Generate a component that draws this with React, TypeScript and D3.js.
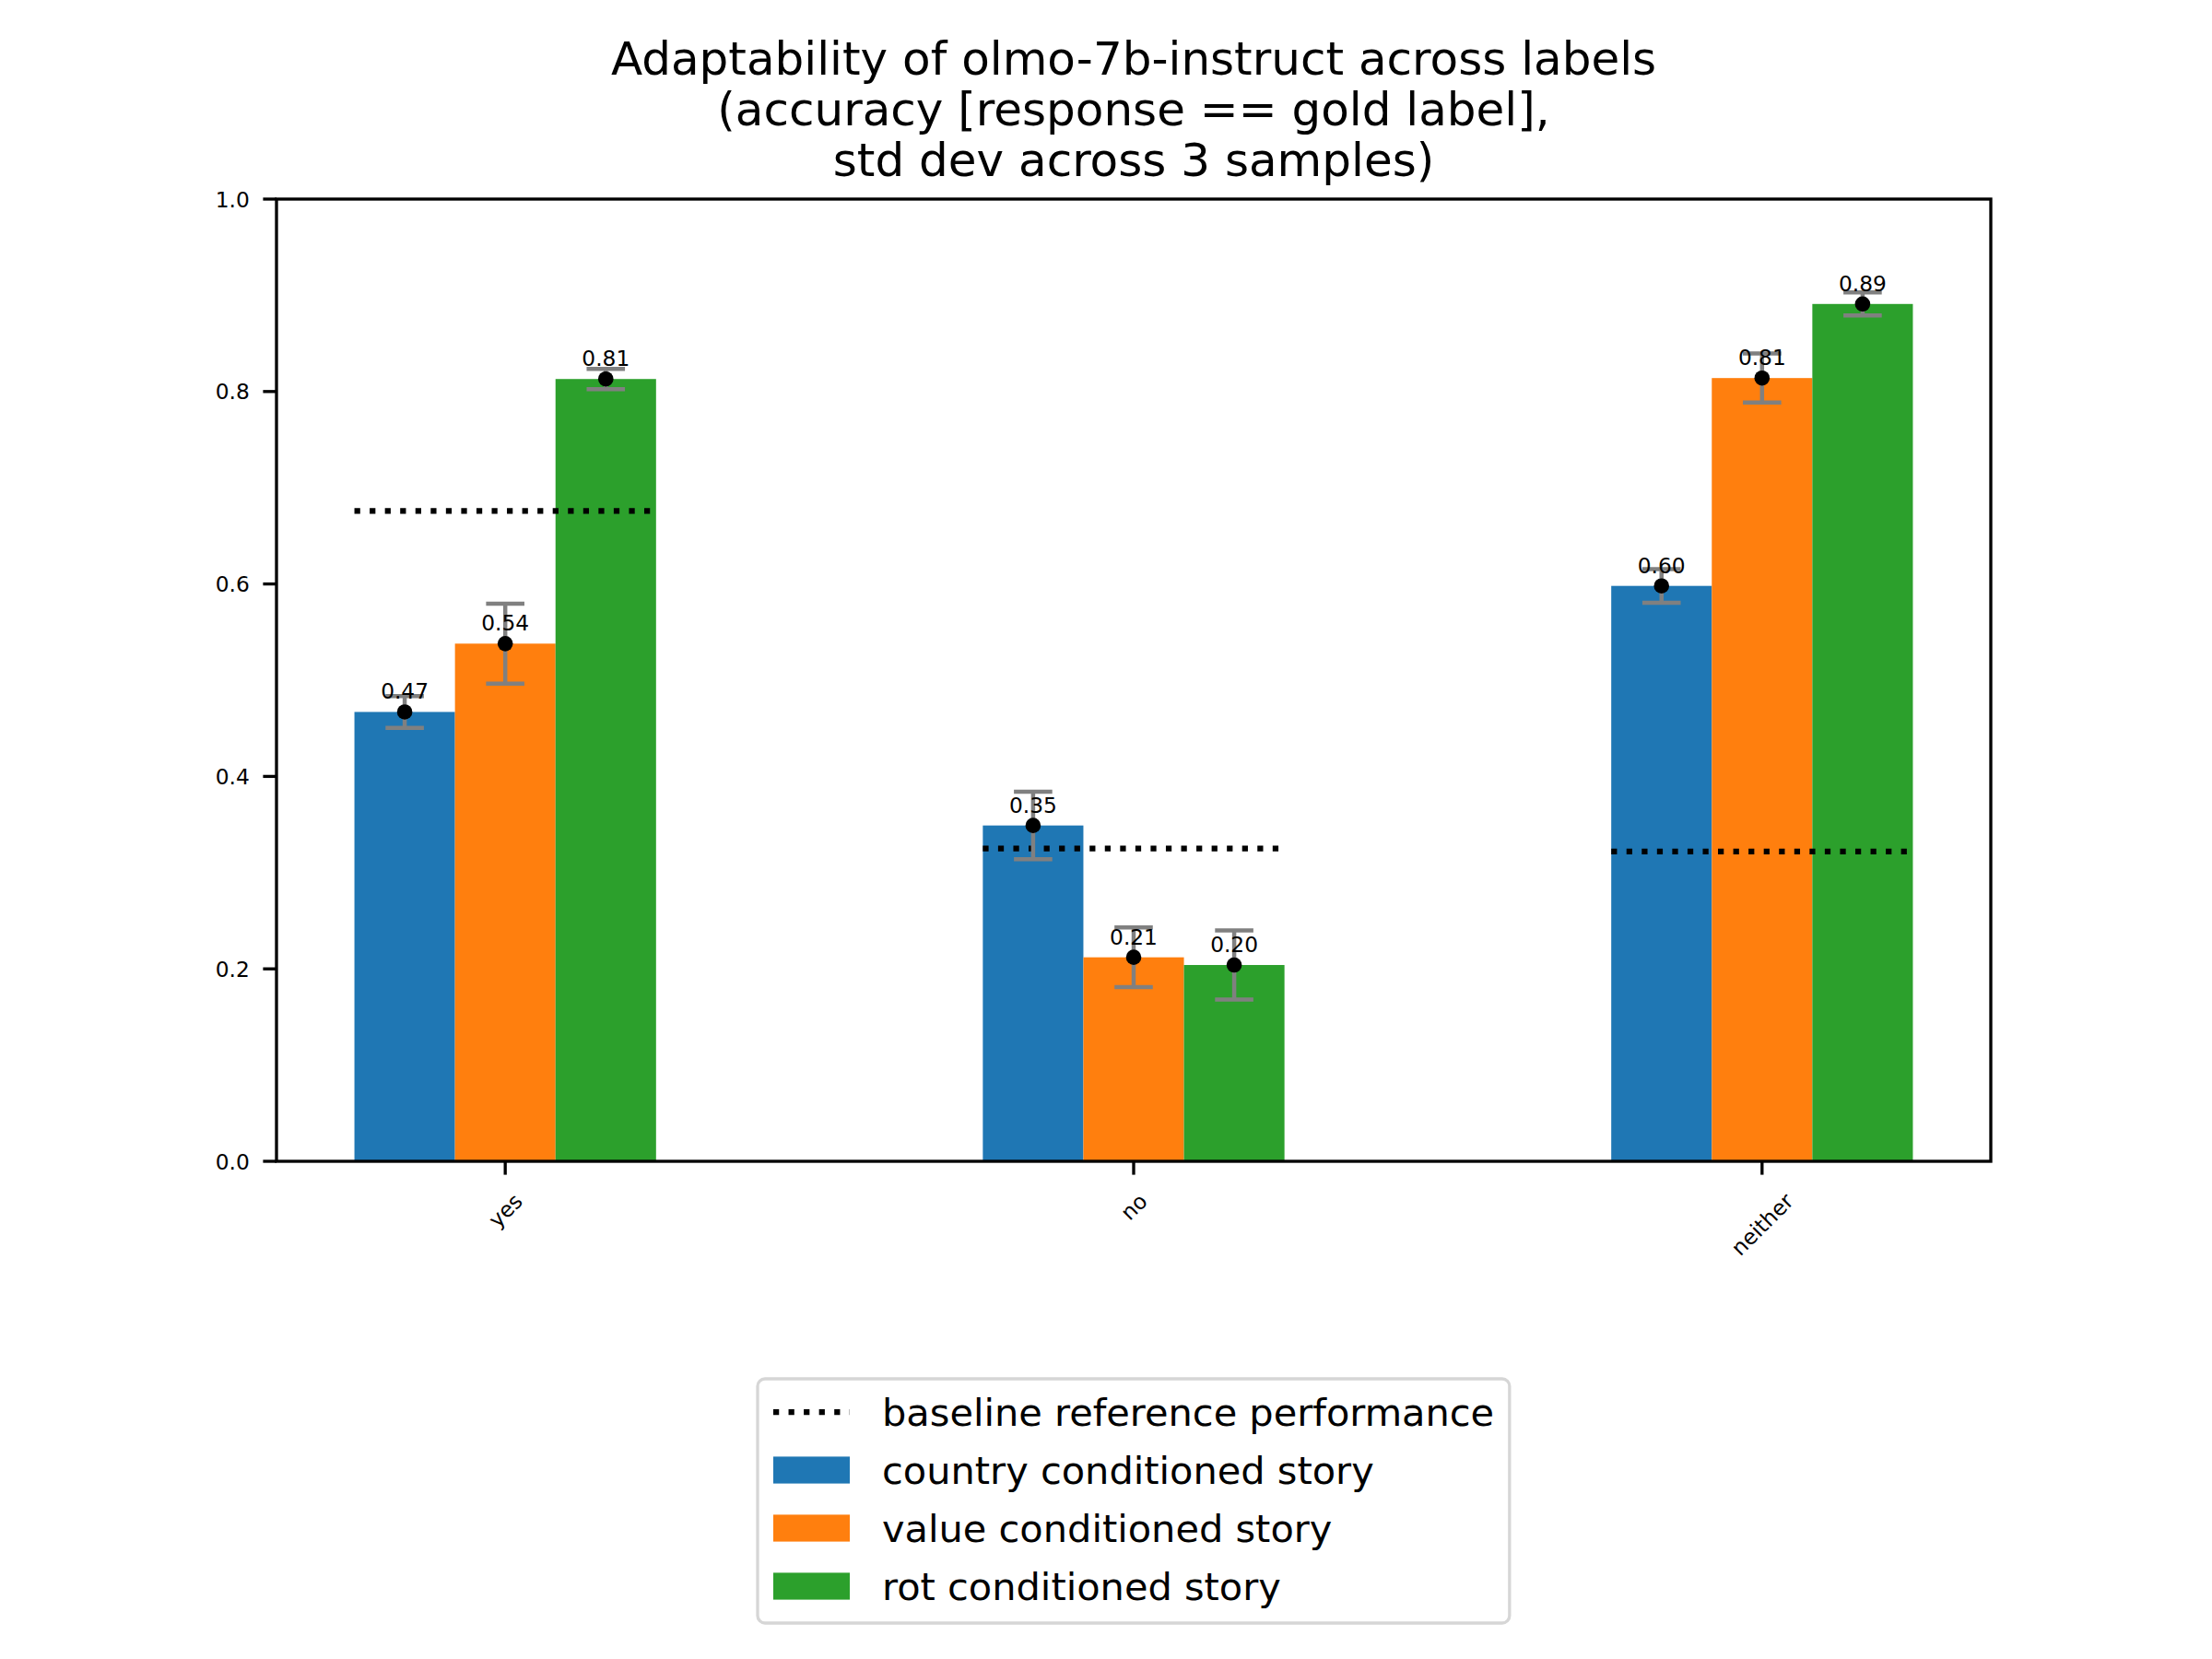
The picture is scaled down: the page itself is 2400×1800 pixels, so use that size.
import { useMemo } from 'react'
import * as d3 from 'd3'

// chart data
const categories = ['yes', 'no', 'neither']
const seriesNames = ['country conditioned story', 'value conditioned story', 'rot conditioned story']
const seriesColors = ['#1f77b4', '#ff7f0e', '#2ca02c']
const countryMeans = [0.467, 0.349, 0.598]
const countryStd = [0.0165, 0.035, 0.0175]
const valueMeans = [0.538, 0.212, 0.814]
const valueStd = [0.0415, 0.031, 0.0255]
const rotMeans = [0.813, 0.204, 0.891]
const rotStd = [0.0105, 0.036, 0.012]
const baselineValues = [0.676, 0.325, 0.322]
const baselineLabel = 'baseline reference performance'
const yTicks = [0, 0.2, 0.4, 0.6, 0.8, 1.0]
const titleLines = [
  'Adaptability of olmo-7b-instruct across labels',
  '(accuracy [response == gold label],',
  'std dev across 3 samples)',
]

const FONT = 'DejaVu Sans, Liberation Sans, sans-serif'

// rough text width measure so rotated tick labels sit like matplotlib's
function measure(text: string, size: number) {
  const ctx = document.createElement('canvas').getContext('2d')
  if (!ctx) return text.length * size * 0.6
  ctx.font = `${size}px "DejaVu Sans"`
  return ctx.measureText(text).width
}

export default function App() {
  const W = 2400
  const H = 1800
  const m = { left: 300, right: 2160, top: 216, bottom: 1260 }
  const barW = 0.16
  const tickLen = 14.6
  const tickFont = 23.3
  const legendFont = 41.5

  const series = [
    { name: seriesNames[0], color: seriesColors[0], means: countryMeans, std: countryStd },
    { name: seriesNames[1], color: seriesColors[1], means: valueMeans, std: valueStd },
    { name: seriesNames[2], color: seriesColors[2], means: rotMeans, std: rotStd },
  ]

  // bars span [-1.5w, n-1+1.5w], matplotlib adds a 5% margin
  const lo = -1.5 * barW
  const hi = categories.length - 1 + 1.5 * barW
  const pad = (hi - lo) * 0.05
  const x = d3.scaleLinear().domain([lo - pad, hi + pad]).range([m.left, m.right])
  const y = d3.scaleLinear().domain([0, 1]).range([m.bottom, m.top])
  const bw = x(barW) - x(0)

  const xLabels = useMemo(() => categories.map(c => {
    const w = measure(c, tickFont)
    const h = tickFont * 1.17
    const bboxH = (w + h) * Math.SQRT1_2
    return { c, cy: m.bottom + tickLen + 14.6 + bboxH / 2 }
  }), [])

  const legendTextW = useMemo(() => measure(baselineLabel, legendFont), [])
  const legLeft = 822
  const legTop = 1496
  const legRowY = (i: number) => 1532 + i * 63
  const legRight = 957 + legendTextW + 16.7

  return (
    <svg width={W} height={H} viewBox={`0 0 ${W} ${H}`}
      style={{ position: 'absolute', left: 0, top: 0, display: 'block', background: '#fff' }}
      fontFamily={FONT}>
      <rect x={0} y={0} width={W} height={H} fill="#fff" />

      {/* title */}
      {titleLines.map((t, i) => (
        <text key={t} x={(m.left + m.right) / 2} y={80.7 + i * 55} fontSize={50}
          textAnchor="middle" fill="#000">{t}</text>
      ))}

      {/* bars */}
      {series.map((s, si) => s.means.map((v, ci) => (
        <rect key={`b${si}-${ci}`} x={x(ci + (si - 1) * barW) - bw / 2} y={y(v)}
          width={bw} height={y(0) - y(v)} fill={s.color} />
      )))}

      {/* baseline reference */}
      {baselineValues.map((v, ci) => (
        <line key={`bl${ci}`} x1={x(ci - 1.5 * barW)} x2={x(ci + 1.5 * barW)} y1={y(v)} y2={y(v)}
          stroke="#000" strokeWidth={6.25} strokeDasharray="6.25 10.3" />
      ))}

      {/* error bars */}
      {series.map((s, si) => s.means.map((v, ci) => {
        const cx = x(ci + (si - 1) * barW)
        const y1 = y(v + s.std[ci])
        const y2 = y(v - s.std[ci])
        return (
          <g key={`e${si}-${ci}`} stroke="#808080" strokeWidth={4.5}>
            <line x1={cx} x2={cx} y1={y1} y2={y2} />
            <line x1={cx - 20.8} x2={cx + 20.8} y1={y1} y2={y1} />
            <line x1={cx - 20.8} x2={cx + 20.8} y1={y2} y2={y2} />
          </g>
        )
      }))}

      {/* mean dots and value labels */}
      {series.map((s, si) => s.means.map((v, ci) => (
        <circle key={`d${si}-${ci}`} cx={x(ci + (si - 1) * barW)} cy={y(v)} r={8.3} fill="#000" />
      )))}
      {series.map((s, si) => s.means.map((v, ci) => (
        <text key={`t${si}-${ci}`} x={x(ci + (si - 1) * barW)} y={y(v) - 14} fontSize={tickFont}
          textAnchor="middle" fill="#000">{d3.format('.2f')(v)}</text>
      )))}

      {/* axes frame */}
      <rect x={m.left} y={m.top} width={m.right - m.left} height={m.bottom - m.top}
        fill="none" stroke="#000" strokeWidth={3.33} />

      {/* y axis */}
      {yTicks.map(t => (
        <g key={`y${t}`}>
          <line x1={m.left - tickLen} x2={m.left} y1={y(t)} y2={y(t)} stroke="#000" strokeWidth={3.33} />
          <text x={m.left - tickLen - 14.6} y={y(t)} fontSize={tickFont} textAnchor="end"
            dominantBaseline="central" fill="#000">{d3.format('.1f')(t)}</text>
        </g>
      ))}

      {/* x axis */}
      {xLabels.map((l, ci) => (
        <g key={`x${l.c}`}>
          <line x1={x(ci)} x2={x(ci)} y1={m.bottom} y2={m.bottom + tickLen} stroke="#000" strokeWidth={3.33} />
          <text x={0} y={0} fontSize={tickFont} textAnchor="middle" dominantBaseline="central" fill="#000"
            transform={`translate(${x(ci)},${l.cy}) rotate(-45)`}>{l.c}</text>
        </g>
      ))}

      {/* legend */}
      <rect x={legLeft} y={legTop} width={legRight - legLeft} height={265} rx={8} ry={8}
        fill="#fff" stroke="#d6d6d6" strokeWidth={3.3} />
      <line x1={839} x2={922} y1={legRowY(0)} y2={legRowY(0)} stroke="#000" strokeWidth={6.25}
        strokeDasharray="6.25 10.3" />
      <text x={957} y={legRowY(0) + 15} fontSize={legendFont} fill="#000">{baselineLabel}</text>
      {series.map((s, si) => (
        <g key={`l${si}`}>
          <rect x={839} y={legRowY(si + 1) - 14.6} width={83} height={29.2} fill={s.color} />
          <text x={957} y={legRowY(si + 1) + 15} fontSize={legendFont} fill="#000">{s.name}</text>
        </g>
      ))}
    </svg>
  )
}
